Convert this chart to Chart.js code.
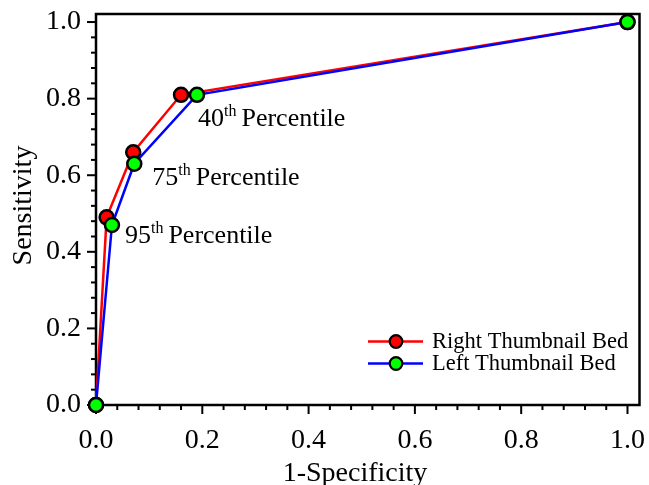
<!DOCTYPE html>
<html>
<head>
<meta charset="utf-8">
<script src="https://cdn.jsdelivr.net/npm/chart.js@4/dist/chart.umd.min.js"></script>
<style>
  html, body { margin: 0; padding: 0; background: #fff; }
  #wrap { width: 649px; height: 485px; position: relative; }
</style>
</head>
<body>
<div id="wrap"><canvas id="c" width="649" height="485"></canvas></div>
<script>
// ---- data ----
const rightX = [0, 0.02, 0.07, 0.16, 1.0];
const rightY = [0, 0.49, 0.66, 0.81, 1.0];
const leftX = [0, 0.03, 0.072, 0.19, 1.0];
const leftY = [0, 0.47, 0.63, 0.81, 1.0];
const majorTicks = [0, 0.2, 0.4, 0.6, 0.8, 1.0];
const minorStep = 0.04;
const percentileNames = ['95', '75', '40'];
const percentileIdx = [1, 2, 3];
const seriesNames = ['Right Thumbnail Bed', 'Left Thumbnail Bed'];
const xTitle = '1-Specificity';
const yTitle = 'Sensitivity';

const FONT = '"Liberation Serif", "Times New Roman", serif';
const toPts = (xs, ys) => xs.map((x, i) => ({ x: x, y: ys[i] }));

// offsets of the percentile labels relative to the left-series point (pixels)
const labelOffsets = [[13, 10], [18, 13], [1, 23]];

const framePlugin = {
  id: 'frame',
  beforeDatasetsDraw(chart) {
    const { ctx, chartArea: a, scales } = chart;
    ctx.save();
    ctx.strokeStyle = '#000';
    ctx.lineWidth = 2.5;
    ctx.strokeRect(a.left, a.top, a.right - a.left, a.bottom - a.top);
    ctx.lineWidth = 2;
    const n = Math.round(1 / minorStep);
    for (let i = 0; i <= n; i++) {
      const v = i * minorStep;
      const major = i % 5 === 0;
      const len = major ? 9 : 5;
      const px = scales.x.getPixelForValue(v);
      ctx.beginPath(); ctx.moveTo(px, a.bottom); ctx.lineTo(px, a.bottom + len); ctx.stroke();
      const py = scales.y.getPixelForValue(v);
      ctx.beginPath(); ctx.moveTo(a.left, py); ctx.lineTo(a.left - len, py); ctx.stroke();
    }
    ctx.restore();
  },
  afterDraw(chart) {
    const { ctx, chartArea: a, scales } = chart;
    ctx.save();
    ctx.fillStyle = '#000';
    // axis titles
    ctx.font = '28px ' + FONT;
    ctx.textAlign = 'center';
    ctx.textBaseline = 'alphabetic';
    ctx.fillText(xTitle, 355, 481);
    ctx.save();
    ctx.translate(31, (a.top + a.bottom) / 2 - 4);
    ctx.rotate(-Math.PI / 2);
    ctx.fillText(yTitle, 0, 0);
    ctx.restore();
    // percentile annotations
    ctx.textAlign = 'left';
    ctx.textBaseline = 'alphabetic';
    percentileIdx.forEach((idx, k) => {
      const px = scales.x.getPixelForValue(leftX[idx]) + labelOffsets[k][0];
      const py = scales.y.getPixelForValue(leftY[idx]) + labelOffsets[k][1] + 8;
      ctx.font = '26px ' + FONT;
      ctx.fillText(percentileNames[k], px, py);
      let w = ctx.measureText(percentileNames[k]).width;
      ctx.font = '16px ' + FONT;
      ctx.fillText('th', px + w, py - 10);
      w += ctx.measureText('th').width + 5;
      ctx.font = '26px ' + FONT;
      ctx.fillText('Percentile', px + w, py);
    });
    // legend
    const rows = [341.5, 363.5];
    const colors = [['#ff0000', '#ff0000'], ['#0000ff', '#00ff00']];
    rows.forEach((ry, i) => {
      ctx.strokeStyle = colors[i][0];
      ctx.lineWidth = 2.5;
      ctx.beginPath(); ctx.moveTo(368, ry); ctx.lineTo(423, ry); ctx.stroke();
      ctx.beginPath(); ctx.arc(396, ry, 6.3, 0, Math.PI * 2);
      ctx.fillStyle = colors[i][1]; ctx.fill();
      ctx.strokeStyle = '#000'; ctx.lineWidth = 2.2; ctx.stroke();
      ctx.fillStyle = '#000';
      ctx.font = '22.5px ' + FONT;
      ctx.textBaseline = 'middle';
      ctx.fillText(seriesNames[i], 432, ry + 1);
    });
    ctx.restore();
  }
};

const zeroPad = s => { s.paddingLeft = 0; s.paddingRight = 0; s.paddingTop = 0; s.paddingBottom = 0; };

new Chart(document.getElementById('c'), {
  type: 'scatter',
  data: {
    datasets: [
      {
        label: seriesNames[0], data: toPts(rightX, rightY), showLine: true,
        borderColor: '#ff0000', borderWidth: 2.5, backgroundColor: '#ff0000',
        pointBackgroundColor: '#ff0000', pointBorderColor: '#000', pointBorderWidth: 2.5,
        pointRadius: 7, order: 2, clip: false, tension: 0
      },
      {
        label: seriesNames[1], data: toPts(leftX, leftY), showLine: true,
        borderColor: '#0000ff', borderWidth: 2.5, backgroundColor: '#00ff00',
        pointBackgroundColor: '#00ff00', pointBorderColor: '#000', pointBorderWidth: 2.5,
        pointRadius: 7, order: 1, clip: false, tension: 0
      }
    ]
  },
  options: {
    responsive: false,
    animation: false,
    events: [],
    layout: { padding: { top: 14, right: 9, left: 0, bottom: 0 } },
    plugins: { legend: { display: false }, tooltip: { enabled: false } },
    scales: {
      x: {
        type: 'linear', min: 0, max: 1.0226,
        afterBuildTicks: s => { s.ticks = majorTicks.map(v => ({ value: v })); },
        afterFit: s => { s.height = 80; zeroPad(s); },
        grid: { display: false, drawTicks: false },
        border: { display: false },
        ticks: { color: '#000', padding: 19, maxRotation: 0, autoSkip: false,
          font: { family: FONT, size: 28 }, callback: v => v.toFixed(1) }
      },
      y: {
        type: 'linear', min: 0, max: 1.021,
        afterBuildTicks: s => { s.ticks = majorTicks.map(v => ({ value: v })); },
        afterFit: s => { s.width = 96; zeroPad(s); },
        grid: { display: false, drawTicks: false },
        border: { display: false },
        ticks: { color: '#000', padding: 15, autoSkip: false,
          font: { family: FONT, size: 28 }, callback: v => v.toFixed(1) }
      }
    }
  },
  plugins: [framePlugin]
});
</script>
</body>
</html>
